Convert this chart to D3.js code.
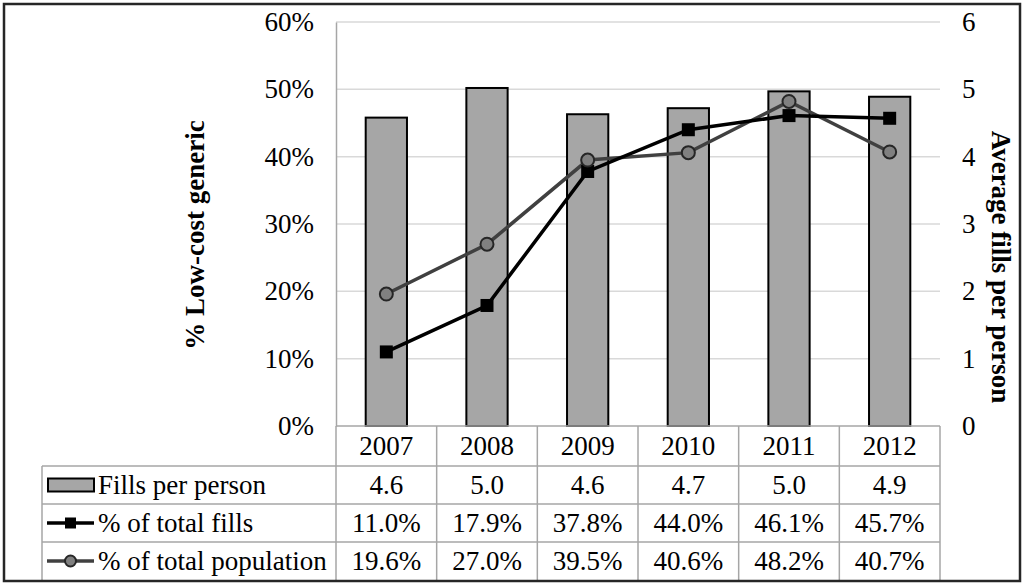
<!DOCTYPE html>
<html>
<head>
<meta charset="utf-8">
<script src="https://cdn.jsdelivr.net/npm/d3@7"></script>
<style>
  body { margin: 0; background: #fff; }
  svg, svg text { font-family: "Liberation Serif", "Times New Roman", Times, serif !important; }
</style>
</head>
<body>
<div class="chart"></div>
<script>
// data
var years = ["2007", "2008", "2009", "2010", "2011", "2012"];
var fillsPerPerson = [4.58, 5.02, 4.63, 4.72, 4.97, 4.89];
var pctTotalFills = [11.0, 17.9, 37.8, 44.0, 46.1, 45.7];
var pctTotalPopulation = [19.6, 27.0, 39.5, 40.6, 48.2, 40.7];
var leftTicks = [0, 10, 20, 30, 40, 50, 60];
var rightTicks = [0, 1, 2, 3, 4, 5, 6];

var W = 1024, H = 585;
var plot = {left: 336, right: 940, top: 22, bottom: 426};
var tableLeft = 42, rowH = 38;
var serif = "Liberation Serif, Times New Roman, serif";

var svg = d3.select(".chart").append("svg")
    .attr("width", W)
    .attr("height", H)
    .attr("font-family", serif);

const xScale = d3.scaleBand()
    .domain(years)
    .range([plot.left, plot.right]);

const yLeft = d3.scaleLinear()
    .domain([0, 60])
    .range([plot.bottom, plot.top]);

const yRight = d3.scaleLinear()
    .domain([0, 6])
    .range([plot.bottom, plot.top]);

// gridlines
svg.append("g")
    .selectAll("line")
    .data(leftTicks.slice(1))
    .enter().append("line")
    .attr("x1", plot.left).attr("x2", plot.right)
    .attr("y1", d => yLeft(d)).attr("y2", d => yLeft(d))
    .attr("stroke", "#d9d9d9")
    .attr("stroke-width", 1.5);

// left axis
const yAxisL = d3.axisLeft(yLeft)
    .tickValues(leftTicks)
    .tickSize(0)
    .tickPadding(22)
    .tickFormat(d => d + "%");

svg.append("g")
    .attr("class", "axis y-left")
    .attr("transform", `translate(${plot.left}, 0)`)
    .call(yAxisL)
    .attr("font-family", serif)
    .attr("font-size", 27)
    .call(g => g.select(".domain").attr("stroke", "#a6a6a6").attr("stroke-width", 1.5))
    .selectAll("text")
    .attr("fill", "#000");

// right axis
const yAxisR = d3.axisRight(yRight)
    .tickValues(rightTicks)
    .tickSize(0)
    .tickPadding(22)
    .tickFormat(d3.format("d"));

svg.append("g")
    .attr("class", "axis y-right")
    .attr("transform", `translate(${plot.right}, 0)`)
    .call(yAxisR)
    .attr("font-family", serif)
    .attr("font-size", 27)
    .call(g => g.select(".domain").remove())
    .selectAll("text")
    .attr("fill", "#000");

// axis titles
svg.append("text")
    .attr("transform", "translate(204, 235) rotate(-90)")
    .attr("text-anchor", "middle")
    .attr("font-size", 27)
    .attr("font-weight", "bold")
    .text("% Low-cost generic");

svg.append("text")
    .attr("transform", "translate(992, 267) rotate(90)")
    .attr("text-anchor", "middle")
    .attr("font-size", 27)
    .attr("font-weight", "bold")
    .text("Average fills per person");

// bars (right axis)
var barW = xScale.bandwidth() * 0.41;
svg.append("g")
    .selectAll("rect")
    .data(years)
    .enter().append("rect")
    .attr("x", d => xScale(d) + xScale.bandwidth() / 2 - barW / 2)
    .attr("y", (d, i) => yRight(fillsPerPerson[i]))
    .attr("width", barW)
    .attr("height", (d, i) => yRight(0) - yRight(fillsPerPerson[i]))
    .attr("fill", "#a6a6a6")
    .attr("stroke", "#000")
    .attr("stroke-width", 2);

var cx = d => xScale(d) + xScale.bandwidth() / 2;

var pctLine = d3.line()
    .x((d, i) => cx(years[i]))
    .y(d => yLeft(d));

// % of total population (grey, circles)
svg.append("path")
    .datum(pctTotalPopulation)
    .attr("d", pctLine)
    .attr("fill", "none")
    .attr("stroke", "#404040")
    .attr("stroke-width", 3.5);

// % of total fills (black, squares)
svg.append("path")
    .datum(pctTotalFills)
    .attr("d", pctLine)
    .attr("fill", "none")
    .attr("stroke", "#000")
    .attr("stroke-width", 3.5);

svg.append("g")
    .selectAll("rect")
    .data(pctTotalFills)
    .enter().append("rect")
    .attr("x", (d, i) => cx(years[i]) - 6.5)
    .attr("y", d => yLeft(d) - 6.5)
    .attr("width", 13)
    .attr("height", 13)
    .attr("fill", "#000");

svg.append("g")
    .selectAll("circle")
    .data(pctTotalPopulation)
    .enter().append("circle")
    .attr("cx", (d, i) => cx(years[i]))
    .attr("cy", d => yLeft(d))
    .attr("r", 6.5)
    .attr("fill", "#808080")
    .attr("stroke", "#262626")
    .attr("stroke-width", 2);

// data table
var grid = svg.append("g")
    .attr("stroke", "#a6a6a6")
    .attr("stroke-width", 1.5);

var tTop = plot.bottom + 40; // bottom of category row
var tBottom = tTop + rowH * 3;

grid.append("line")
    .attr("x1", plot.left).attr("x2", plot.right)
    .attr("y1", plot.bottom).attr("y2", plot.bottom);

[0, 1, 2].forEach(function(r) {
    grid.append("line")
        .attr("x1", tableLeft).attr("x2", plot.right)
        .attr("y1", tTop + r * rowH).attr("y2", tTop + r * rowH);
});

grid.append("line")
    .attr("x1", tableLeft).attr("x2", tableLeft)
    .attr("y1", tTop).attr("y2", tBottom);

grid.selectAll(".vcol")
    .data(years.concat(["end"]))
    .enter().append("line")
    .attr("x1", (d, i) => plot.left + i * xScale.step())
    .attr("x2", (d, i) => plot.left + i * xScale.step())
    .attr("y1", plot.bottom)
    .attr("y2", tBottom);

// category labels
svg.append("g")
    .selectAll("text")
    .data(years)
    .enter().append("text")
    .attr("x", d => cx(d))
    .attr("y", plot.bottom + 20)
    .attr("dy", "0.35em")
    .attr("text-anchor", "middle")
    .attr("font-size", 27)
    .text(d => d);

var rows = [
    {label: "Fills per person", values: fillsPerPerson, fmt: d3.format(".1f")},
    {label: "% of total fills", values: pctTotalFills, fmt: d => d3.format(".1f")(d) + "%"},
    {label: "% of total population", values: pctTotalPopulation, fmt: d => d3.format(".1f")(d) + "%"}
];

rows.forEach(function(row, r) {
    var yc = tTop + r * rowH + rowH / 2;
    svg.append("text")
        .attr("x", 98)
        .attr("y", yc)
        .attr("dy", "0.35em")
        .attr("font-size", 27)
        .text(row.label);

    svg.append("g")
        .selectAll("text")
        .data(row.values)
        .enter().append("text")
        .attr("x", (d, i) => cx(years[i]))
        .attr("y", yc)
        .attr("dy", "0.35em")
        .attr("text-anchor", "middle")
        .attr("font-size", 27)
        .text(d => row.fmt(d));
});

// legend keys
var k0 = tTop + rowH / 2;
svg.append("rect")
    .attr("x", 48).attr("y", k0 - 6.5)
    .attr("width", 46).attr("height", 13)
    .attr("fill", "#a6a6a6")
    .attr("stroke", "#000")
    .attr("stroke-width", 2);

var k1 = tTop + rowH * 1.5;
svg.append("line")
    .attr("x1", 47).attr("x2", 94)
    .attr("y1", k1).attr("y2", k1)
    .attr("stroke", "#000").attr("stroke-width", 3.5);
svg.append("rect")
    .attr("x", 65).attr("y", k1 - 5.5)
    .attr("width", 11).attr("height", 11)
    .attr("fill", "#000");

var k2 = tTop + rowH * 2.5;
svg.append("line")
    .attr("x1", 47).attr("x2", 94)
    .attr("y1", k2).attr("y2", k2)
    .attr("stroke", "#404040").attr("stroke-width", 3.5);
svg.append("circle")
    .attr("cx", 70.5).attr("cy", k2)
    .attr("r", 5.5)
    .attr("fill", "#808080")
    .attr("stroke", "#262626")
    .attr("stroke-width", 2);

// outer border
svg.append("rect")
    .attr("x", 4).attr("y", 4)
    .attr("width", 1016).attr("height", 577)
    .attr("fill", "none")
    .attr("stroke", "#262626")
    .attr("stroke-width", 2.5);
</script>
</body>
</html>
